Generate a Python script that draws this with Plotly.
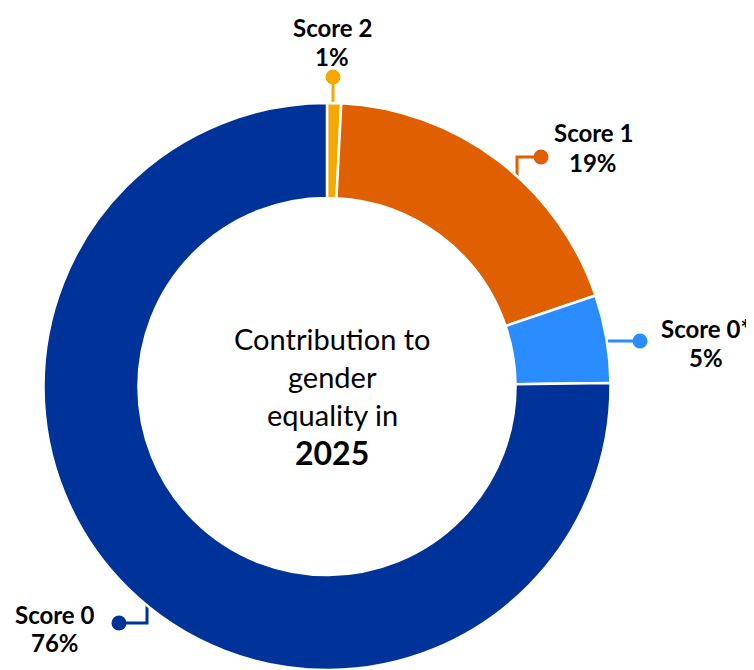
import plotly.graph_objects as go

# data (clockwise from 12 o'clock)
labels = ["Score 2", "Score 1", "Score 0*", "Score 0"]
values = [0.8, 19.0, 5.0, 75.2]
shown_pct = ["1%", "19%", "5%", "76%"]
colors = ["#F7A800", "#E05F00", "#2B8CFF", "#003399"]

centre_lines = ["Contribution to", "gender", "equality in"]
year = "2025"

# the page body has an 8px margin, so the figure is drawn 8px smaller
# and the hidden axes keep the window's pixel coordinates
PAGE_W, PAGE_H, OFF = 754, 670, 8
W, H = PAGE_W - OFF, PAGE_H - OFF

# pie box in window pixels (left, top, size)
px0, py0, size = 43.5, 103, 567

# label anchors and leader paths, in window pixels
label_pos = {
    "Score 2": (332, 27, 56),
    "Score 1": (593, 132, 162),
    "Score 0*": (706, 328, 357),
    "Score 0": (55, 614, 642),
}
leaders = {
    "Score 2": [(333, 106), (333, 77)],
    "Score 1": [(517, 180), (517, 157), (541, 157)],
    "Score 0*": [(604, 341), (640, 341)],
    "Score 0": [(147, 604), (147, 623), (119, 623)],
}

fig = go.Figure()

fig.add_trace(go.Pie(
    labels=labels,
    values=values,
    hole=0.665,
    sort=False,
    direction="clockwise",
    rotation=0,
    marker=dict(colors=colors, line=dict(color="white", width=2.5)),
    textinfo="none",
    hoverinfo="label+percent",
    showlegend=False,
    domain=dict(
        x=[(px0 - OFF) / W, (px0 - OFF + size) / W],
        y=[max(0, 1 - (py0 - OFF + size) / H), 1 - (py0 - OFF) / H],
    ),
))

for lab, col in zip(labels, colors):
    pts = leaders[lab]
    fig.add_trace(go.Scatter(
        x=[p[0] for p in pts],
        y=[p[1] for p in pts],
        mode="lines",
        line=dict(color=col, width=3),
        hoverinfo="skip",
        showlegend=False,
    ))
    fig.add_trace(go.Scatter(
        x=[pts[-1][0]],
        y=[pts[-1][1]],
        mode="markers",
        marker=dict(color=col, size=15),
        hoverinfo="skip",
        showlegend=False,
    ))

lab_font = dict(family="Lato", size=24, color="black")
for lab, pct in zip(labels, shown_pct):
    x, y1, y2 = label_pos[lab]
    fig.add_annotation(x=x, y=y1, text="<b>%s</b>" % lab, showarrow=False,
                       xref="x", yref="y", font=lab_font)
    fig.add_annotation(x=x, y=y2, text="<b>%s</b>" % pct, showarrow=False,
                       xref="x", yref="y", font=lab_font)

for i, line in enumerate(centre_lines):
    fig.add_annotation(x=332, y=338 + 38 * i, text=line, showarrow=False,
                       xref="x", yref="y",
                       font=dict(family="Lato", size=29, color="black"))
fig.add_annotation(x=332, y=452, text="<b>%s</b>" % year, showarrow=False,
                   xref="x", yref="y",
                   font=dict(family="Lato", size=32, color="black"))

fig.update_layout(
    width=W, height=H,
    margin=dict(l=0, r=0, t=0, b=0),
    paper_bgcolor="white",
    plot_bgcolor="rgba(0,0,0,0)",
    xaxis=dict(range=[OFF, PAGE_W], visible=False, fixedrange=True),
    yaxis=dict(range=[PAGE_H, OFF], visible=False, fixedrange=True),
)

fig.write_html("out.html")
